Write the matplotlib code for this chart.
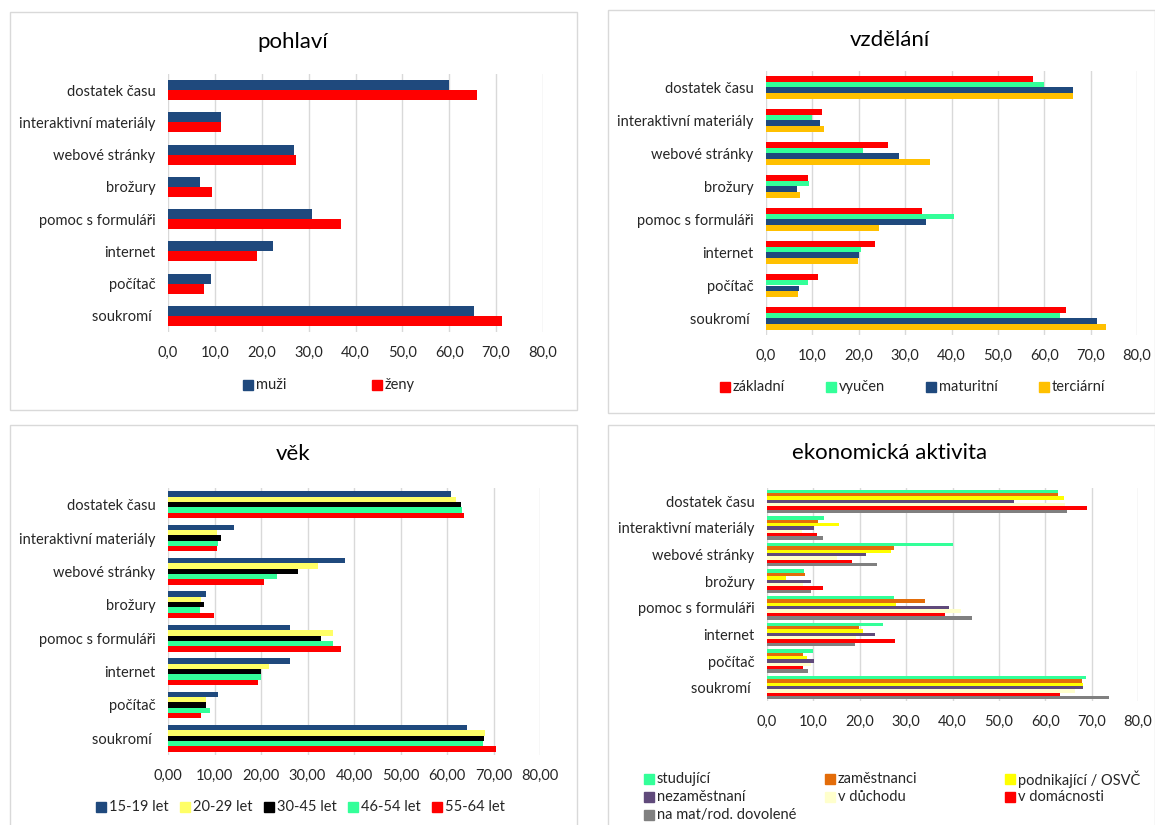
import matplotlib
matplotlib.use("Agg")
import matplotlib.pyplot as plt
from matplotlib.patches import Rectangle
import numpy as np

plt.rcParams["font.family"] = ["Lato", "DejaVu Sans"]

# kategorie odshora dolů
kategorie = ["dostatek času", "interaktivní materiály", "webové stránky", "brožury",
             "pomoc s formuláři", "internet", "počítač", "soukromí "]

# pohlaví
pohlavi_nazvy = ["muži", "ženy"]
muzi = [59.9, 11.4, 26.9, 6.9, 30.7, 22.3, 9.1, 65.2]
zeny = [66.0, 11.2, 27.4, 9.3, 36.9, 19.0, 7.7, 71.2]

# vzdělání
vzdelani_nazvy = ["základní", "vyučen", "maturitní", "terciární"]
zakladni = [57.6, 12.1, 26.4, 9.1, 33.7, 23.4, 11.2, 64.6]
vyucen = [60.0, 10.0, 20.9, 9.3, 40.6, 20.4, 9.1, 63.4]
maturitni = [66.2, 11.6, 28.6, 6.7, 34.6, 20.0, 7.1, 71.4]
terciarni = [66.1, 12.4, 35.3, 7.4, 24.4, 19.8, 6.8, 73.3]

# věk
vek_nazvy = ["15-19 let", "20-29 let", "30-45 let", "46-54 let", "55-64 let"]
vek_15_19 = [60.9, 14.2, 38.0, 8.1, 26.2, 26.2, 10.8, 64.3]
vek_20_29 = [62.0, 10.6, 32.2, 7.0, 35.4, 21.7, 8.1, 68.1]
vek_30_45 = [63.1, 11.4, 28.0, 7.8, 33.0, 19.9, 8.1, 67.9]
vek_46_54 = [63.3, 10.8, 23.5, 6.8, 35.4, 20.1, 9.0, 67.7]
vek_55_64 = [63.6, 10.6, 20.7, 9.8, 37.1, 19.3, 7.0, 70.5]

# ekonomická aktivita
ekon_nazvy = ["studující", "zaměstnanci", "podnikající / OSVČ", "nezaměstnaní",
              "v důchodu", "v domácnosti", "na mat/rod. dovolené"]
studujici = [62.7, 12.3, 40.0, 7.9, 27.4, 25.0, 9.9, 68.7]
zamestnanci = [62.7, 10.9, 27.4, 8.3, 34.0, 19.8, 7.7, 67.9]
podnikajici = [64.1, 15.6, 26.8, 4.2, 27.9, 20.8, 8.6, 68.1]
nezamestnani = [53.2, 10.1, 21.4, 9.4, 39.2, 23.3, 10.1, 68.2]
duchod = [64.2, 7.6, 15.0, 7.8, 41.9, 19.1, 9.4, 66.5]
domacnost = [69.1, 10.7, 18.3, 12.0, 38.3, 27.7, 7.7, 63.1]
materska = [64.6, 12.1, 23.8, 9.4, 44.1, 18.9, 8.8, 73.7]

W, H = 1155, 825
fig = plt.figure(figsize=(W / 100, H / 100), dpi=100)
TEXT = "#262626"
GRID = "#D9D9D9"


def px_axes(x0, x1, y0, y1):
    return fig.add_axes([x0 / W, 1 - y1 / H, (x1 - x0) / W, (y1 - y0) / H])


def ramecek(x0, y0, x1, y1):
    fig.patches.append(Rectangle((x0 / W, 1 - y1 / H), (x1 - x0) / W, (y1 - y0) / H,
                                 transform=fig.transFigure, fill=False,
                                 edgecolor=GRID, linewidth=1))


def graf(ax, serie, barvy, sirka_skupiny, fmt):
    y = np.arange(len(kategorie))
    n = len(serie)
    h = sirka_skupiny / n
    for j, (hodnoty, barva) in enumerate(zip(serie, barvy)):
        ax.barh(y + (j - (n - 1) / 2) * h, hodnoty, height=h, color=barva, zorder=3)
    ax.set_xlim(0, 80)
    ax.set_ylim(len(kategorie) - 0.5, -0.5)
    ax.set_xticks(np.arange(0, 81, 10))
    ax.set_xticklabels([fmt.format(v).replace(".", ",") for v in range(0, 81, 10)])
    ax.set_yticks(y)
    ax.set_yticklabels(kategorie)
    ax.tick_params(length=0, labelsize=10.5, colors=TEXT)
    ax.tick_params(axis="y", pad=9)
    ax.tick_params(axis="x", pad=10)
    ax.grid(axis="x", color=GRID, linewidth=1, zorder=0)
    for s in ax.spines.values():
        s.set_visible(False)


def legenda(polozky, barvy, xs, ys):
    for text, barva, x, y in zip(polozky, barvy, xs, ys):
        fig.patches.append(Rectangle(((x) / W, 1 - (y + 5) / H), 10 / W, 10 / H,
                                     transform=fig.transFigure, color=barva))
        fig.text((x + 13) / W, 1 - y / H, text, ha="left", va="center",
                 fontsize=10.5, color=TEXT)


def nadpis(text, x, y):
    fig.text(x / W, 1 - y / H, text, ha="center", va="center", fontsize=16, color="black")


# rámečky panelů
ramecek(10, 12, 577, 410)
ramecek(608, 10, 1155, 413)
ramecek(10, 425, 577, 826)
ramecek(608, 425, 1155, 826)

# pohlaví
b_pohlavi = ["#1F497D", "#FF0000"]
ax1 = px_axes(168, 543, 74, 332)
graf(ax1, [muzi, zeny], b_pohlavi, 0.62, "{:.1f}")
nadpis("pohlaví", 293, 42)
legenda(pohlavi_nazvy, b_pohlavi, [243, 372], [385, 385])

# vzdělání
b_vzdelani = ["#FF0000", "#33FF99", "#1F497D", "#FFC000"]
ax2 = px_axes(766, 1137, 71, 335)
graf(ax2, [zakladni, vyucen, maturitni, terciarni], b_vzdelani, 0.72, "{:.1f}")
nadpis("vzdělání", 890, 40)
legenda(vzdelani_nazvy, b_vzdelani, [720, 826, 926, 1039], [387] * 4)

# věk
b_vek = ["#1F497D", "#FFFF66", "#000000", "#33FF99", "#FF0000"]
ax3 = px_axes(168, 540, 488, 755)
graf(ax3, [vek_15_19, vek_20_29, vek_30_45, vek_46_54, vek_55_64], b_vek, 0.8, "{:.2f}")
nadpis("věk", 293, 454)
legenda(vek_nazvy, b_vek, [96, 180, 264, 348, 432], [807] * 5)

# ekonomická aktivita
b_ekon = ["#33FF99", "#E36C09", "#FFFF00", "#604A7B", "#FFFFCC", "#FF0000", "#808080"]
ax4 = px_axes(767, 1138, 488, 701)
graf(ax4, [studujici, zamestnanci, podnikajici, nezamestnani, duchod, domacnost, materska],
     b_ekon, 0.88, "{:.1f}")
nadpis("ekonomická aktivita", 890, 453)
legenda(ekon_nazvy, b_ekon,
        [644, 825, 1005, 644, 825, 1005, 644],
        [779, 779, 779, 797, 797, 797, 815])

fig.savefig("out.png", dpi=100)
